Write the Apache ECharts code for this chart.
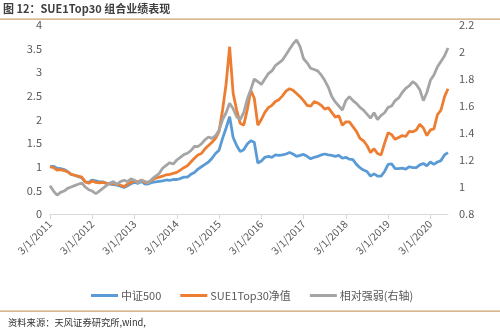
<!DOCTYPE html>
<html>
<head>
<meta charset="utf-8">
<script src="https://cdn.jsdelivr.net/npm/echarts@6/dist/echarts.min.js"></script>
<style>
html,body{margin:0;padding:0;background:#fff;}
#c{width:500px;height:331px;}
</style>
</head>
<body>
<div id="c"></div>
<script>
// ---- data (monthly, Mar 2011 .. Aug 2020) ----
const startYear = 2011, startMonth = 3, monthCount = 114;
const tickLabels = ['3/1/2011','3/1/2012','3/1/2013','3/1/2014','3/1/2015','3/1/2016','3/1/2017','3/1/2018','3/1/2019','3/1/2020'];
const seriesNames = ['中证500', 'SUE1Top30净值', '相对强弱(右轴)'];

const csi500 = [
  1.00,1.01,0.97,0.96,0.94,0.90,0.84,0.82,0.79,0.77,0.68,0.67,
  0.72,0.70,0.68,0.68,0.65,0.63,0.62,0.61,0.59,0.56,0.60,0.64,
  0.67,0.65,0.69,0.63,0.64,0.67,0.68,0.69,0.70,0.72,0.71,0.73,
  0.73,0.75,0.78,0.78,0.84,0.88,0.95,1.00,1.05,1.10,1.18,1.28,
  1.35,1.60,1.82,2.06,1.62,1.45,1.32,1.36,1.48,1.55,1.52,1.08,
  1.12,1.20,1.22,1.20,1.25,1.24,1.25,1.27,1.30,1.27,1.22,1.24,
  1.26,1.22,1.17,1.20,1.22,1.25,1.27,1.25,1.24,1.22,1.24,1.18,
  1.20,1.16,1.15,1.05,0.98,0.93,0.90,0.80,0.85,0.80,0.80,0.90,
  1.05,1.06,0.96,0.96,0.97,0.95,1.00,0.98,0.98,1.04,1.07,1.02,
  1.10,1.05,1.10,1.13,1.25,1.30
];
const sueNav = [
  1.00,0.98,0.93,0.94,0.92,0.89,0.84,0.82,0.80,0.78,0.68,0.65,
  0.70,0.67,0.66,0.67,0.65,0.65,0.64,0.63,0.61,0.58,0.63,0.67,
  0.70,0.68,0.72,0.66,0.68,0.72,0.76,0.78,0.80,0.83,0.84,0.86,
  0.88,0.93,0.98,1.02,1.10,1.18,1.25,1.28,1.38,1.45,1.52,1.60,
  1.75,2.20,2.75,3.54,2.55,2.20,1.92,1.88,2.20,2.62,2.45,1.88,
  2.00,2.15,2.25,2.30,2.38,2.42,2.50,2.60,2.65,2.62,2.55,2.48,
  2.40,2.30,2.28,2.38,2.35,2.30,2.22,2.25,2.15,2.05,2.08,1.88,
  1.95,1.95,1.85,1.75,1.60,1.55,1.45,1.30,1.38,1.28,1.25,1.50,
  1.72,1.68,1.58,1.62,1.66,1.64,1.75,1.74,1.78,1.90,1.82,1.66,
  1.78,1.80,2.10,2.20,2.48,2.65
];
const relStrength = [
  1.01,0.97,0.94,0.96,0.97,0.99,1.00,1.01,1.02,1.03,1.00,0.98,
  0.97,0.95,0.97,0.99,1.01,1.03,1.04,1.02,1.04,1.05,1.04,1.06,
  1.05,1.03,1.05,1.04,1.03,1.06,1.08,1.10,1.14,1.16,1.18,1.17,
  1.20,1.22,1.24,1.25,1.27,1.30,1.30,1.32,1.35,1.37,1.36,1.38,
  1.42,1.50,1.55,1.62,1.58,1.52,1.50,1.55,1.65,1.72,1.80,1.78,
  1.76,1.80,1.84,1.86,1.90,1.92,1.94,1.98,2.02,2.06,2.09,2.04,
  1.95,1.92,1.88,1.87,1.86,1.83,1.79,1.74,1.67,1.63,1.60,1.57,
  1.64,1.67,1.64,1.62,1.59,1.57,1.54,1.51,1.55,1.50,1.53,1.55,
  1.59,1.60,1.64,1.66,1.70,1.73,1.75,1.78,1.76,1.72,1.64,1.70,
  1.79,1.83,1.89,1.93,1.97,2.03
];

const categories = [];
for (let i = 0; i < monthCount; i++) {
  const t = startMonth - 1 + i;
  const y = startYear + Math.floor(t / 12);
  const m = (t % 12) + 1;
  categories.push(y + '-' + (m < 10 ? '0' + m : m));
}

const FONT = '"Noto Sans CJK SC", "Noto Sans", sans-serif';
const chart = echarts.init(document.getElementById('c'), null, {renderer: 'canvas'});
chart.setOption({
  animation: false,
  backgroundColor: '#fff',
  textStyle: {fontFamily: FONT},
  graphic: [
    {type: 'text', left: 3, top: 3, style: {text: '图 12：SUE1Top30 组合业绩表现', font: 'bold 11px ' + FONT, fill: '#404040'}},
    {type: 'rect', shape: {x: 0, y: 18.5, width: 500, height: 1.2}, style: {fill: '#C9A26A'}},
    {type: 'rect', shape: {x: 0, y: 310.5, width: 500, height: 1.2}, style: {fill: '#C9A26A'}},
    {type: 'text', left: 8, top: 318, style: {text: '资料来源：天风证券研究所,wind,', font: '9.3px ' + FONT, fill: '#333'}}
  ],
  legend: {
    left: 86, top: 285,
    icon: 'rect', itemWidth: 27, itemHeight: 3, itemGap: 19,
    textStyle: {fontSize: 11, color: '#595959', fontFamily: FONT, padding: [0, 0, 0, -2]},
    data: seriesNames
  },
  grid: {left: 50, right: 52, top: 25, bottom: 117, containLabel: false},
  xAxis: {
    type: 'category', data: categories, boundaryGap: false,
    axisLine: {lineStyle: {color: '#D9D9D9', width: 1}},
    axisTick: {show: true, interval: 11, length: 5, lineStyle: {color: '#D9D9D9'}},
    axisLabel: {
      interval: 11, rotate: 45, margin: 8, fontSize: 10.5, color: '#595959', fontFamily: FONT,
      formatter: function (v, idx) { return tickLabels[Math.round(idx / 12)] || ''; }
    },
    splitLine: {show: false}
  },
  yAxis: [
    {
      type: 'value', min: 0, max: 4, interval: 0.5,
      axisLine: {show: false}, axisTick: {show: false}, splitLine: {show: false},
      axisLabel: {fontSize: 11, color: '#595959', margin: 8, fontFamily: FONT}
    },
    {
      type: 'value', min: 0.8, max: 2.2, interval: 0.2,
      axisLine: {show: false}, axisTick: {show: false}, splitLine: {show: false},
      axisLabel: {fontSize: 11, color: '#595959', margin: 11, fontFamily: FONT,
        formatter: function (v) { return String(Math.round(v * 10) / 10); }}
    }
  ],
  series: [
    {name: seriesNames[0], type: 'line', data: csi500, yAxisIndex: 0, symbol: 'none',
      lineStyle: {color: '#5B9BD5', width: 2.8}, itemStyle: {color: '#5B9BD5'}},
    {name: seriesNames[1], type: 'line', data: sueNav, yAxisIndex: 0, symbol: 'none',
      lineStyle: {color: '#ED7D31', width: 2.8}, itemStyle: {color: '#ED7D31'}},
    {name: seriesNames[2], type: 'line', data: relStrength, yAxisIndex: 1, symbol: 'none',
      lineStyle: {color: '#A5A5A5', width: 2.8}, itemStyle: {color: '#A5A5A5'}}
  ]
});
</script>
</body>
</html>
